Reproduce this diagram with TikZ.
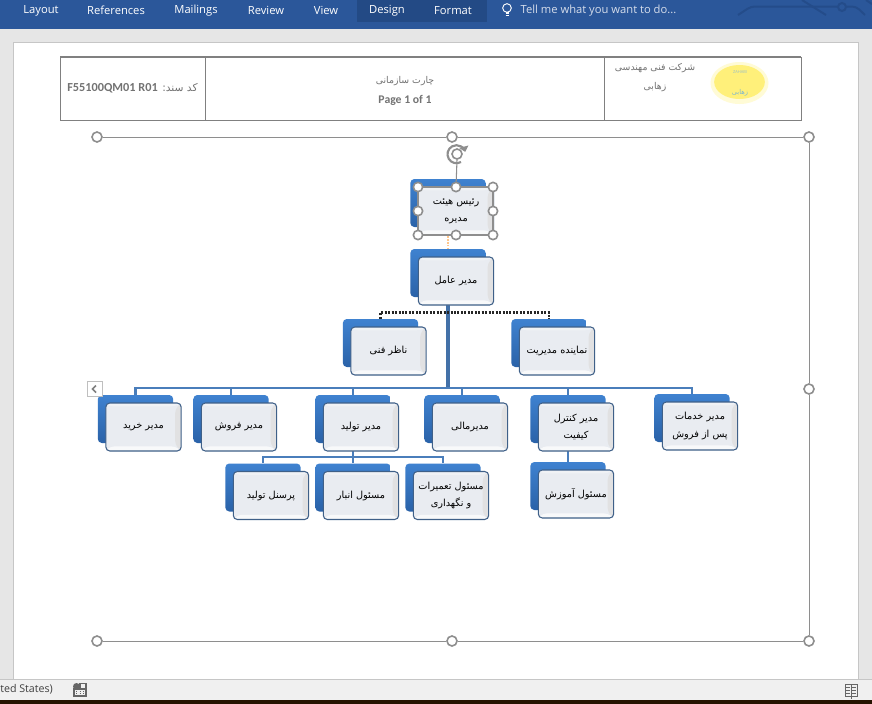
\documentclass[tikz,border=0pt]{standalone}
\usepackage{fontspec}
\setmainfont{Open Sans}
\newfontfamily\fafont[Script=Arabic]{DejaVu Sans}
\newfontfamily\calfont{Carlito}
\TeXXeTstate=1
\usepackage{tikz}
\usetikzlibrary{shapes.geometric,positioning,calc,backgrounds,arrows.meta}
\newcommand{\rl}[1]{{\fafont\beginR #1\endR}}
\definecolor{ribbonblue}{HTML}{2B579A}
\definecolor{tabblue}{HTML}{234A85}
\definecolor{circuitblue}{HTML}{244C8A}
\definecolor{pagegray}{HTML}{E6E6E6}
\definecolor{handlegray}{HTML}{8E8E8E}
\definecolor{linkblue}{HTML}{4A7EBB}
\definecolor{boxface}{HTML}{E9ECF1}
\definecolor{boxedge}{HTML}{3F6088}
\definecolor{platetop}{HTML}{3F82D0}
\definecolor{platebottom}{HTML}{2A62A8}
\definecolor{logoyellow}{HTML}{FFF07A}
\definecolor{logohalo}{HTML}{FFFBD6}

\begin{document}
\begin{tikzpicture}[
    x=0.75pt, y=-0.75pt,
    frontbox/.style={draw=boxedge, line width=0.8pt, fill=boxface, rounded corners=3pt, minimum width=56.5pt, minimum height=36pt,
        inner sep=0pt, align=center, font=\fontsize{7.3pt}{13pt}\selectfont,
        path picture={
            \fill[gray!25, opacity=.8] (path picture bounding box.north east) -- ++(-4.5pt,-4.5pt) -- ([shift={(-4.5pt,4.5pt)}]path picture bounding box.south east) -- (path picture bounding box.south east) -- cycle;
            \fill[white, opacity=.7] (path picture bounding box.south west) -- ++(3.5pt,3.5pt) -- ([shift={(-4.5pt,3.5pt)}]path picture bounding box.south east) -- (path picture bounding box.south east) -- cycle;
            \fill[white, opacity=.35] (path picture bounding box.north west) -- ++(2.5pt,-2.5pt) -- ([shift={(-4.5pt,-2.5pt)}]path picture bounding box.north east) -- (path picture bounding box.north east) -- cycle;
        }},
    backbox/.style={draw=none, top color=platetop, bottom color=platebottom, rounded corners=3pt, minimum width=56.5pt, minimum height=36pt, inner sep=0pt},
    link/.style={draw=linkblue, line width=1.8pt},
    trunk/.style={draw=linkblue!90!black, line width=2.6pt},
    handle/.style={circle, draw=handlegray, line width=1.2pt, fill=white, minimum size=7.5pt, inner sep=0pt},
    ribbontext/.style={text=white, font=\fontsize{8.4pt}{10pt}\selectfont},
    headtext/.style={text=gray!90!black, font=\fontsize{7pt}{10pt}\selectfont, align=center},
    chromeline/.style={draw=handlegray, line width=0.55pt}
]
    \useasboundingbox (0,0) rectangle (872,704);

    % org chart boxes, back plate first
    \foreach \n/\x/\y/\t in {
        raees/456/211/{\rl{رئیس هیئت}\\\rl{مدیره}},
        amel/456/281/{\rl{مدیر عامل}},
        nazer/388.5/351/{\rl{ناظر فنی}},
        nemayande/557/351/{\rl{نماینده مدیریت}},
        kharid/143.5/427/{\rl{مدیر خرید}},
        forush/239/427/{\rl{مدیر فروش}},
        tolid/361/427/{\rl{مدیر تولید}},
        mali/470/427/{\rl{مدیرمالی}},
        kontrol/576/427/{\rl{مدیر کنترل}\\\rl{کیفیت}},
        khadamat/700/426/{\rl{مدیر خدمات}\\\rl{پس از فروش}},
        personel/271/495.5/{\rl{پرسنل تولید}},
        anbar/361/495.5/{\rl{مسئول انبار}},
        tamirat/451/495.5/{\rl{مسئول تعمیرات}\\\rl{و نگهداری}},
        amuzesh/576/494/{\rl{مسئول آموزش}}%
    }{
        \node[backbox] (\n b) at (\x-8,\y-8) {};
        \node[frontbox] (\n) at (\x,\y) {\t};
    }

    % selection handles of the top box
    \draw[draw=handlegray, line width=0.9pt] (418,187) rectangle (493,235);
    \foreach \n/\x/\y in {s1/418/187, s2/456/187, s3/493/187, s4/418/211, s5/493/211, s6/418/235, s7/456/235, s8/493/235}
        \node[handle, minimum size=7pt] (\n) at (\x,\y) {};

    % canvas handles
    \foreach \n/\x/\y in {h1/97/137, h2/452/137, h3/809/137, h5/809/389, h6/97/641, h7/452/641, h8/809/641}
        \node[handle] (\n) at (\x,\y) {};

    % rotate icon
    \node[circle, draw=handlegray, line width=1.2pt, minimum size=7.5pt, inner sep=0pt] (rotate) at (457,154) {};
    \draw[handlegray, line width=1.6pt, -{Triangle[length=4pt,width=7pt]}] (461,162) arc[start angle=60, end angle=345, radius=9];
    \draw[chromeline, line width=0.8pt] (rotate.south) -- (s2);

    \begin{scope}[on background layer]
        % word window
        \fill[pagegray] (0,0) rectangle (872,704);
        \fill[white] (13,42) rectangle (858,679);
        \draw[gray!45] (13,679) -- (13,42) -- (858,42) -- (858,679);
        \fill[ribbonblue] (0,0) rectangle (872,29);
        \fill[tabblue] (357,0) rectangle (487,22);
        \draw[circuitblue, line width=1.5pt, rounded corners=3pt] (738,15) -- (751,6.5) -- (838,6.5) (846,6.5) -- (856,6.5) -- (865,15);
        \draw[circuitblue, line width=1.5pt] (802,0) -- (826,15) (866,0) -- (872,4);
        \draw[circuitblue, line width=1.5pt] (842,7) circle[radius=4];
        \node[ribbontext] (t1) at (41,10.5) {Layout};
        \node[ribbontext] (t2) at (116,10.5) {References};
        \node[ribbontext] (t3) at (196,10.5) {Mailings};
        \node[ribbontext] (t4) at (266,10.5) {Review};
        \node[ribbontext] (t5) at (326,10.5) {View};
        \node[ribbontext] (t6) at (387,10.5) {Design};
        \node[ribbontext] (t7) at (453,10.5) {Format};
        \node[ribbontext, text=white!80!ribbonblue] (t8) at (598.5,10.5) {Tell me what you want to do...};
        \node[circle, draw=white, line width=0.7pt, minimum size=6.5pt, inner sep=0pt] (bulb) at (507,8) {};
        \draw[white, line width=0.8pt] (505.5,13) -- (508.5,13) (505.5,15.5) -- (508.5,15.5);
        % status bar
        \fill[gray!12] (0,679) rectangle (872,700);
        \draw[gray!45] (0,679) -- (872,679);
        \fill[black!85!orange] (0,700) rectangle (872,704);
        \node[anchor=west, inner sep=0pt, text=black!75, font=\fontsize{8pt}{9pt}\selectfont] (lang) at (0,689) {ted States)};
        \fill[gray!80!black] (76.5,686.5) circle[radius=3.5];
        \draw[gray!80!black, line width=0.8pt] (74,689) rectangle (86,696) (80,683.5) rectangle (86,689);
        \draw[gray!80!black, line width=0.7pt, dotted] (76,691) -- (85,691) (76,693.5) -- (85,693.5);
        \draw[gray!80!black, line width=0.6pt] (845,684) rectangle (857,696) (851,684) -- (851,699);
        \draw[gray!80!black, line width=0.4pt] (846,687) -- (850,687) (846,690) -- (850,690) (846,693) -- (850,693) (852,687) -- (856,687) (852,690) -- (856,690) (852,693) -- (856,693);
        % page header table
        \draw[gray, line width=0.6pt] (60,57) rectangle (801,120) (205,57) -- (205,120) (604,57) -- (604,120);
        \draw[gray, line width=1.4pt] (60,57) -- (801,57);
        \node[headtext, font=\fontsize{8pt}{10pt}\selectfont] (docno) at (132.5,88) {\rl{کد سند: \beginL{\calfont\bfseries\fontsize{9.2pt}{10pt}\selectfont F55100QM01 R01}\endL}};
        \node[headtext] (title) at (405,81) {\rl{چارت سازمانی}};
        \node[headtext, font=\calfont\bfseries\fontsize{8.8pt}{10pt}\selectfont] (page) at (405,100.5) {Page 1 of 1};
        \node[headtext] (firm1) at (655,68) {\rl{شرکت فنی مهندسی}};
        \node[headtext] (firm2) at (655,87) {\rl{زهابی}};
        \fill[logohalo] (739.5,83) ellipse[x radius=29, y radius=21];
        \node[ellipse, fill=logoyellow, minimum width=38pt, minimum height=25.5pt, inner sep=0pt] (logo) at (739.5,82) {};
        \node[text=cyan!40!gray!70, inner sep=0pt, font=\fontsize{3pt}{3pt}\selectfont] (logoa) at (740,72.5) {ZAHABI};
        \node[text=cyan!50!gray!80, inner sep=0pt, font=\fontsize{5pt}{5pt}\selectfont] (logob) at (740,93) {\rl{زهابی}};
        % canvas frame
        \draw[chromeline] (h1) -- (h2) -- (h3) -- (h5) -- (h8) -- (h7) -- (h6) -- cycle;
        % connectors
        \coordinate (mainbus) at (448,388);
        \coordinate (subbus) at (353,457);
        \draw[trunk] (amelb.south) -- (mainbus);
        \foreach \n in {kharid, forush, tolid, mali, kontrol, khadamat}
            \draw[link] (\n b.north) |- (mainbus);
        \draw[link] (tolidb.south) -- (subbus);
        \foreach \n in {personel, anbar, tamirat}
            \draw[link] (\n b.north) |- (subbus);
        \draw[link] (kontrolb.south) -- (amuzeshb.north);
        \coordinate (assist) at (448,312.5);
        \draw[black!85, line width=1.7pt, dash pattern=on 1.5pt off 1.1pt] (nazerb.north) |- (assist) -| (nemayandeb.north);
        \draw[orange!45, line width=1.2pt, densely dotted] (raeesb.south) -- (amelb.north);
    \end{scope}

    % collapse tab over the frame
    \node[draw=gray!50, fill=white, minimum width=11pt, minimum height=11.5pt, inner sep=0pt] (tab) at (94.5,389) {};
    \draw[gray, line width=1.2pt] (96,385.5) -- (92.5,389) -- (96,392.5);
\end{tikzpicture}
\end{document}
